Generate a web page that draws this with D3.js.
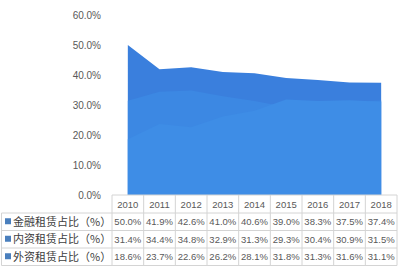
<!DOCTYPE html>
<html><head><meta charset="utf-8">
<script src="https://cdn.jsdelivr.net/npm/d3@7"></script>
<style>body{margin:0;background:#fff;}svg{display:block;font-family:"Noto Sans CJK SC","DejaVu Sans",sans-serif;}</style>
</head><body>
<svg id="c" width="400" height="275"></svg>
<script>
const years = ["2010","2011","2012","2013","2014","2015","2016","2017","2018"];
const seriesNames = ["金融租赁占比（%）","内资租赁占比（%）","外资租赁占比（%）"];
const finance = [50.0,41.9,42.6,41.0,40.6,39.0,38.3,37.5,37.4];
const domestic = [31.4,34.4,34.8,32.9,31.3,29.3,30.4,30.9,31.5];
const foreign = [18.6,23.7,22.6,26.2,28.1,31.8,31.3,31.6,31.1];
const yTicks = [0,10,20,30,40,50,60];
const colors = ["#3a7fdd","#3c88e3","#3e8de6"];
const seriesValues = [finance, domestic, foreign];

const svg = d3.select("#c");
const tableLeft = 112, tableRight = 397;
const x = d3.scaleBand().domain(years).range([tableLeft, tableRight]);
const xc = d => x(d) + x.bandwidth()/2;
const y = d3.scaleLinear().domain([0,60]).range([195,15]);

// areas (overlapping, each from zero)
const area = d3.area().x((d,i)=>xc(years[i])).y0(y(0)).y1(d=>y(d));
seriesValues.forEach((vals,k)=>{
  svg.append("path").attr("d", area(vals)).attr("fill", colors[k]);
});

// y axis labels
const yAxis = d3.axisLeft(y).tickValues(yTicks).tickFormat(d=>d.toFixed(1)+"%").tickSize(0).tickPadding(0);
const gy = svg.append("g").attr("transform","translate(101,0)").call(yAxis);
gy.select(".domain").remove();
gy.selectAll("text").attr("font-size",10).attr("fill","#595959").attr("font-family","Liberation Sans, Arial, sans-serif");

// table
const rowTop = [195,213,230.5,248];
const rowBottom = 265.5;
const g = svg.append("g");
const lineColor = "#d4d4d4";
g.append("line").attr("x1",tableLeft).attr("x2",tableRight).attr("y1",rowTop[0]).attr("y2",rowTop[0]).attr("stroke",lineColor);
[rowTop[1],rowTop[2],rowTop[3],rowBottom].forEach(yy=>{
  g.append("line").attr("x1",1.5).attr("x2",tableRight).attr("y1",yy).attr("y2",yy).attr("stroke",lineColor);
});
g.append("line").attr("x1",1.5).attr("x2",1.5).attr("y1",rowTop[1]).attr("y2",rowBottom).attr("stroke",lineColor);
years.forEach(yr=>{
  g.append("line").attr("x1",x(yr)).attr("x2",x(yr)).attr("y1",rowTop[0]).attr("y2",rowBottom).attr("stroke",lineColor);
});
g.append("line").attr("x1",tableRight).attr("x2",tableRight).attr("y1",rowTop[0]).attr("y2",rowBottom).attr("stroke",lineColor);

years.forEach(yr=>{
  g.append("text").attr("x",xc(yr)).attr("y",(rowTop[0]+rowTop[1])/2+3.5).attr("text-anchor","middle")
   .attr("font-size",9.5).attr("fill","#595959").attr("font-family","Liberation Sans, Arial, sans-serif").text(yr);
});
seriesValues.forEach((vals,k)=>{
  const top = rowTop[k+1], bot = k<2 ? rowTop[k+2] : rowBottom;
  const mid = (top+bot)/2;
  g.append("rect").attr("x",5).attr("y",mid-3.5).attr("width",6).attr("height",6).attr("fill","#4a7fbd");
  g.append("text").attr("x",13).attr("y",mid+4).attr("font-size",11).attr("fill","#404040").text(seriesNames[k]);
  vals.forEach((v,i)=>{
    g.append("text").attr("x",xc(years[i])).attr("y",mid+3.5).attr("text-anchor","middle")
     .attr("font-size",9.5).attr("fill","#595959").attr("font-family","Liberation Sans, Arial, sans-serif").text(v.toFixed(1)+"%");
  });
});
</script>
</body></html>
